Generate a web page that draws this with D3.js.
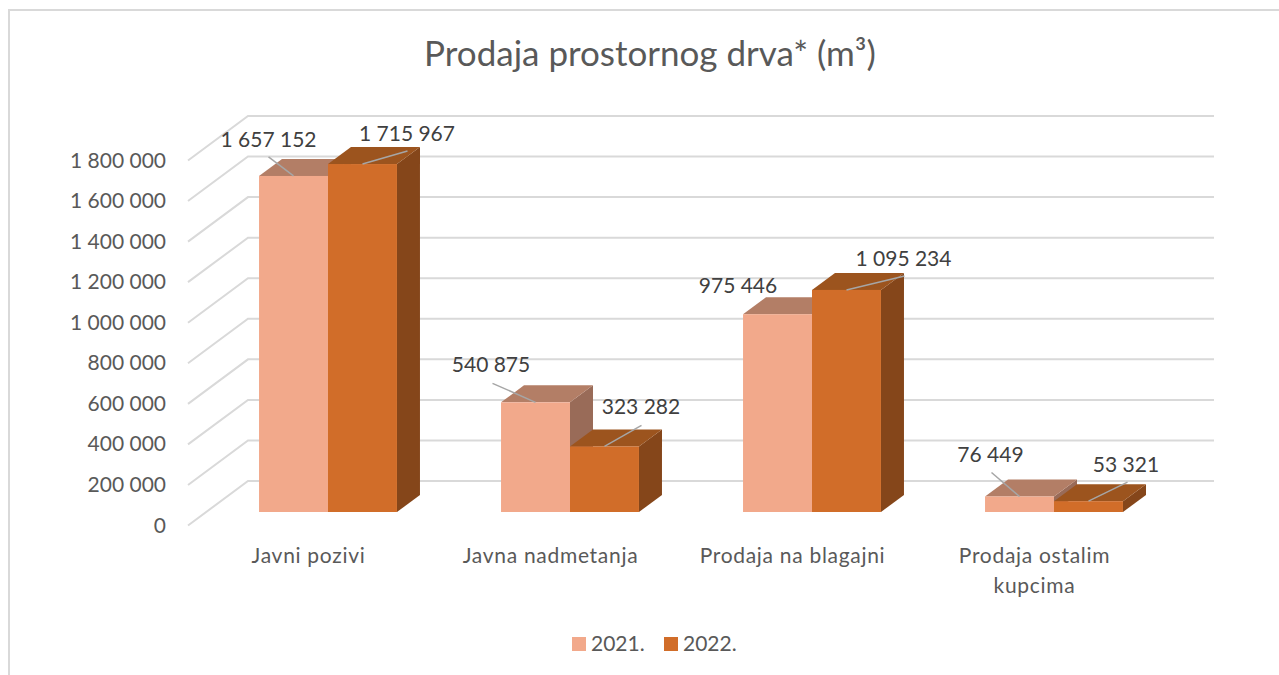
<!DOCTYPE html>
<html>
<head>
<meta charset="utf-8">
<script src="https://cdn.jsdelivr.net/npm/d3@7"></script>
<style>
  html, body { margin: 0; padding: 0; background: #fff; }
  text { font-family: "Lato", sans-serif; }
</style>
</head>
<body>
<svg id="chart" width="1279" height="675"></svg>
<script>
const categories = ["Javni pozivi", "Javna nadmetanja", "Prodaja na blagajni", "Prodaja ostalim kupcima"];
const seriesNames = ["2021.", "2022."];
const values2021 = [1657152, 540875, 975446, 76449];
const values2022 = [1715967, 323282, 1095234, 53321];
const yTicks = [0, 200000, 400000, 600000, 800000, 1000000, 1200000, 1400000, 1600000, 1800000];

// colours: front, top, side
const colors = [
  { front: "#f2a98b", top: "#b37e66", side: "#996b58" },
  { front: "#d16d29", top: "#9c541e", side: "#85461a" }
];

// label centre relative to the bar's front-top centre
const labelPos = [
  [{ dx: -25, dy: -29 }, { dx: 44.5, dy: -23 }],
  [{ dx: -44.5, dy: -30 }, { dx: 36.5, dy: -32 }],
  [{ dx: -39.5, dy: -21 }, { dx: 57, dy: -24 }],
  [{ dx: -29, dy: -34.5 }, { dx: 37.5, dy: -29 }]
];
// the 975 446 label has no leader line
const leaderEnd = [
  [{ dx: -25, dy: -19 }, { dx: 45, dy: -13 }],
  [{ dx: -43, dy: -19 }, { dx: 37, dy: -21 }],
  [null, { dx: 58, dy: -14 }],
  [{ dx: -28, dy: -24 }, { dx: 39, dy: -19 }]
];

const svg = d3.select("#chart");

const depthX = 23, depthY = 17;
const wallDx = 60, wallDy = 44.5;
const h = 365;

// y for the front plane of the bars
const y = d3.scaleLinear().domain([0, 1800000]).range([512, 512 - h]);
// y at the left edge of the walls, where the tick labels sit
const yLeft = d3.scaleLinear().domain([0, 1800000]).range([525.5, 525.5 - h]);

const x0 = d3.scaleBand().domain(categories).range([207, 1175]).paddingInner(0.43).paddingOuter(0.215);
const x1 = d3.scaleBand().domain(seriesNames).range([0, x0.bandwidth()]);

// chart frame, open on the right
svg.append("path")
  .attr("d", "M9,675V10H1279")
  .attr("fill", "none")
  .attr("stroke", "#d9d9d9")
  .attr("stroke-width", 2);

svg.append("text")
  .attr("x", 650).attr("y", 66)
  .attr("text-anchor", "middle")
  .attr("font-size", 35)
  .attr("fill", "#595959")
  .text("Prodaja prostornog drva* (m³)");

// grid lines: side wall diagonal and back wall horizontal
const grid = svg.append("g");
grid.selectAll("path")
  .data(yTicks)
  .enter().append("path")
    .attr("d", (d) => {
      const yl = yLeft(d);
      return "M188," + yl + "L" + (188 + wallDx) + "," + (yl - wallDy) + "H1214";
    })
    .attr("fill", "none")
    .attr("stroke", "#d9d9d9")
    .attr("stroke-width", 2);

// y tick labels
svg.append("g").selectAll("text")
  .data(yTicks)
  .enter().append("text")
    .attr("x", 166)
    .attr("y", (d) => yLeft(d) + 7)
    .attr("text-anchor", "end")
    .attr("font-size", 21)
    .attr("fill", "#595959")
    .text((d) => d3.format(",")(d).replace(/,/g, " "));

// bars
const bars = [];
categories.forEach((c, i) => {
  [values2021[i], values2022[i]].forEach((v, s) => {
    bars.push({ c: c, i: i, s: s, v: v, x: x0(c) + x1(seriesNames[s]), w: x1.bandwidth() });
  });
});

const bar = svg.append("g").selectAll("g")
  .data(bars)
  .enter().append("g");

bar.append("path") // side face
  .attr("d", (d) => {
    const r = d.x + d.w;
    return "M" + r + "," + y(d.v) + "l" + depthX + "," + (-depthY) + "V" + (y(0) - depthY) + "L" + r + "," + y(0) + "Z";
  })
  .attr("fill", (d) => colors[d.s].side);

bar.append("path") // top face
  .attr("d", (d) => "M" + d.x + "," + y(d.v) + "l" + depthX + "," + (-depthY) + "h" + d.w + "l" + (-depthX) + "," + depthY + "Z")
  .attr("fill", (d) => colors[d.s].top);

bar.append("rect") // front face
  .attr("x", (d) => d.x)
  .attr("y", (d) => y(d.v))
  .attr("width", (d) => d.w)
  .attr("height", (d) => y(0) - y(d.v))
  .attr("fill", (d) => colors[d.s].front);

// leader lines
bar.filter((d) => leaderEnd[d.i][d.s])
  .append("line")
    .attr("x1", (d) => d.x + d.w / 2)
    .attr("y1", (d) => y(d.v))
    .attr("x2", (d) => d.x + d.w / 2 + leaderEnd[d.i][d.s].dx)
    .attr("y2", (d) => y(d.v) + leaderEnd[d.i][d.s].dy)
    .attr("stroke", "#a6a6a6")
    .attr("stroke-width", 1.5);

// data labels
bar.append("text")
  .attr("x", (d) => d.x + d.w / 2 + labelPos[d.i][d.s].dx)
  .attr("y", (d) => y(d.v) + labelPos[d.i][d.s].dy)
  .attr("text-anchor", "middle")
  .attr("font-size", 21)
  .attr("fill", "#404040")
  .text((d) => d3.format(",")(d.v).replace(/,/g, " "));

// category labels
const catLabels = svg.append("g").selectAll("text")
  .data(categories)
  .enter().append("text")
    .attr("text-anchor", "middle")
    .attr("font-size", 21)
    .attr("letter-spacing", 0.7)
    .attr("fill", "#595959")
    .attr("x", (d) => x0(d) + x0.bandwidth() / 2 - 19.5)
    .attr("y", 563);
catLabels.each(function(d) {
  const t = d3.select(this);
  const lines = d === "Prodaja ostalim kupcima" ? ["Prodaja ostalim", "kupcima"] : [d];
  lines.forEach((l, i) => {
    t.append("tspan").attr("x", t.attr("x")).attr("dy", i ? 30 : 0).text(l);
  });
});

// legend
const legend = svg.append("g").selectAll("g")
  .data(seriesNames)
  .enter().append("g")
    .attr("transform", (d, i) => "translate(" + (572 + i * 92) + ",637)");
legend.append("rect").attr("width", 14).attr("height", 14).attr("fill", (d, i) => colors[i].front);
legend.append("text").attr("x", 19).attr("y", 14).attr("font-size", 21).attr("fill", "#595959").text((d) => d);
</script>
</body>
</html>
